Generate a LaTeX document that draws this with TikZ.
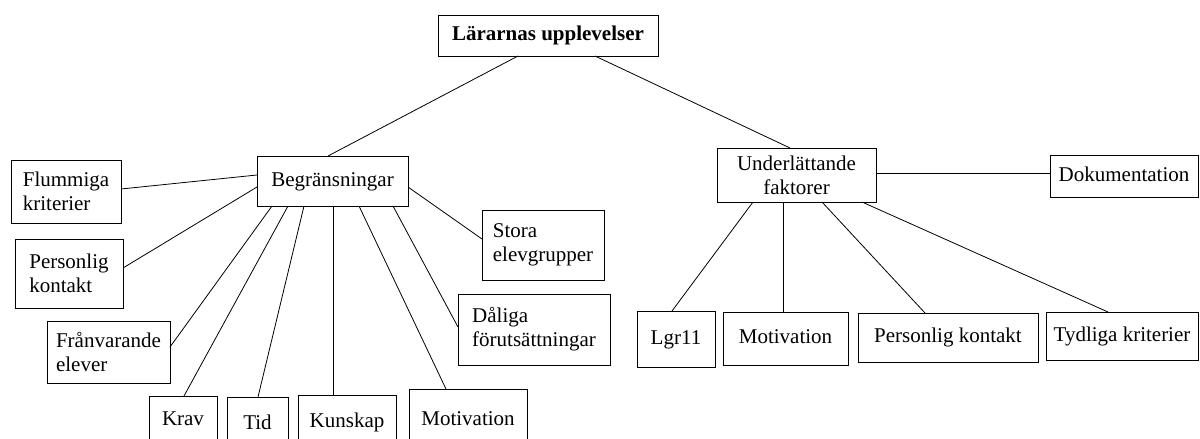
\documentclass[tikz,border=0pt]{standalone}
\usepackage{fontspec}
\setmainfont{Liberation Serif}
\usetikzlibrary{calc}
\begin{document}
\begin{tikzpicture}[x=1pt,y=-1pt,
  box/.style={draw,line width=1pt,inner sep=0pt,outer sep=0pt,font=\fontsize{21}{24}\selectfont},
  one/.style={text height=14.5pt,text depth=4.5pt},
  two/.style={align=left},
  link/.style={line width=0.8pt}]
\useasboundingbox (0,0) rectangle (1200,439);
\clip (0,0) rectangle (1200,439);

\node[box,one,minimum width=220pt,minimum height=41pt] (top) at (548,35.5) {\bfseries Lärarnas upplevelser};
\node[box,one,minimum width=151pt,minimum height=50pt] (beg) at (332.5,181) {Begränsningar};
\node[box,two,minimum width=110pt,minimum height=63pt] (flum) at (66,191.5) {Flummiga\\kriterier};
\node[box,two,minimum width=108pt,minimum height=69pt] (pers) at (69,273.5) {Personlig\\kontakt};
\node[box,two,minimum width=123pt,minimum height=62pt] (fran) at (108.5,352) {Frånvarande\\elever};
\node[box,one,minimum width=68pt,minimum height=49pt] (krav) at (183,420.5) {Krav};
\node[box,one,minimum width=61pt,minimum height=55pt] (tid) at (257.5,424.5) {Tid};
\node[box,one,minimum width=98pt,minimum height=55pt] (kun) at (347,422.5) {Kunskap};
\node[box,one,minimum width=118pt,minimum height=63pt] (motL) at (468,420.5) {Motivation};
\node[box,two,minimum width=122pt,minimum height=70pt] (stora) at (543,245) {Stora\\elevgrupper};
\node[box,two,minimum width=152pt,minimum height=71pt] (dal) at (534,329.5) {Dåliga\\förutsättningar};

\node[box,align=center,minimum width=159pt,minimum height=54pt] (und) at (796.5,175) {Underlättande\\faktorer};
\node[box,one,minimum width=148pt,minimum height=42pt] (dok) at (1124,176) {Dokumentation};
\node[box,one,minimum width=78pt,minimum height=56pt] (lgr) at (676,339) {Lgr11};
\node[box,one,minimum width=125pt,minimum height=53pt] (motR) at (785.5,338.5) {Motivation};
\node[box,one,minimum width=180pt,minimum height=49pt] (persR) at (948,337.5) {Personlig kontakt};
\node[box,one,minimum width=152pt,minimum height=48pt] (tyd) at (1122,336) {Tydliga kriterier};

\draw[link] ($(top.south west)+(80,0)$) -- ($(beg.north west)+(71,0)$);
\draw[link] ($(top.south west)+(157,0)$) -- ($(und.north west)+(73,0)$);

\draw[link] ($(beg.north west)+(0,19)$) -- ($(flum.north east)+(0,29)$);
\draw[link] ($(beg.north west)+(0,31)$) -- ($(pers.north east)+(0,29)$);
\draw[link] ($(beg.south west)+(15,0)$) -- ($(fran.north east)+(0,26)$);
\draw[link] ($(beg.south west)+(31,0)$) -- ($(krav.north west)+(35,0)$);
\draw[link] ($(beg.south west)+(47,0)$) -- ($(tid.north west)+(31,0)$);
\draw[link] ($(beg.south west)+(76,0)$) -- ($(kun.north west)+(35,0)$);
\draw[link] ($(beg.south west)+(102,0)$) -- ($(motL.north west)+(37,0)$);
\draw[link] ($(beg.south west)+(136,0)$) -- ($(dal.north west)+(0,33)$);
\draw[link] ($(beg.north east)+(0,31)$) -- ($(stora.north west)+(0,29)$);

\draw[link] ($(und.north east)+(0,25)$) -- ($(dok.north west)+(0,18)$);
\draw[link] ($(und.south west)+(36,0)$) -- ($(lgr.north west)+(35,0)$);
\draw[link] ($(und.south west)+(66,0)$) -- ($(motR.north west)+(60,0)$);
\draw[link] ($(und.south west)+(105,0)$) -- ($(persR.north west)+(67,0)$);
\draw[link] ($(und.south west)+(145,0)$) -- ($(tyd.north west)+(62,0)$);
\end{tikzpicture}
\end{document}
